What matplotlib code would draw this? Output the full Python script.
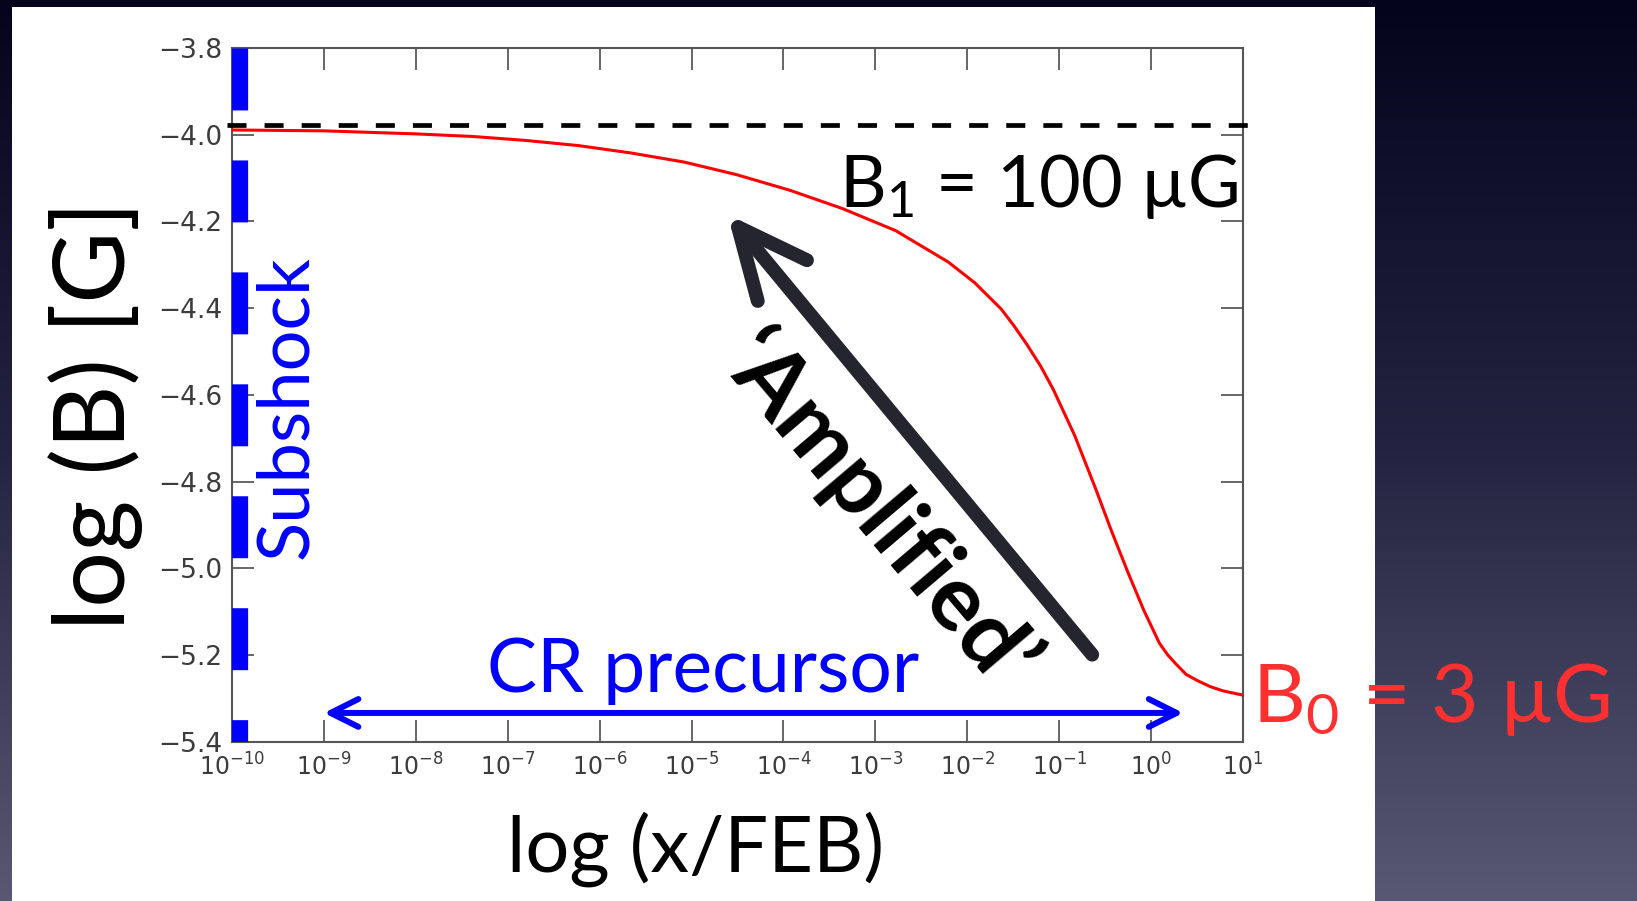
import numpy as np
import matplotlib
matplotlib.use("Agg")
import matplotlib.pyplot as plt
from matplotlib.patches import Rectangle
from matplotlib.ticker import FixedLocator, NullLocator, LogFormatterMathtext, FuncFormatter

plt.rcParams['lines.scale_dashes'] = False
plt.rcParams['axes.unicode_minus'] = True

# ---------------- data ----------------
log_x = [-10, -9, -8, -7.38, -6.81, -6.23, -5.66, -5.08, -4.51, -3.93, -3.36,
         -2.78, -2.21, -1.92, -1.63, -1.49, -1.35, -1.20, -1.06, -0.83, -0.60,
         -0.43, -0.25, -0.08, 0.09, 0.18, 0.27, 0.38, 0.50, 0.64, 0.78, 1.0]
log_B = [-3.989, -3.991, -3.998, -4.004, -4.013, -4.025, -4.042, -4.063, -4.092,
         -4.128, -4.170, -4.221, -4.293, -4.341, -4.402, -4.441, -4.484, -4.534,
         -4.589, -4.694, -4.818, -4.914, -5.010, -5.096, -5.172, -5.199, -5.220,
         -5.244, -5.258, -5.272, -5.282, -5.292]
x_decades = list(range(-10, 2))
y_ticks = [-3.8, -4.0, -4.2, -4.4, -4.6, -4.8, -5.0, -5.2, -5.4]
x_limits = (1e-10, 1e1)
y_limits = (-5.4, -3.8)

B1_level = -3.977                       # dashed upstream-field line
B1_span = (10 ** -10.05, 10 ** 1.12)
subshock_x = 1e-10
cr_span = (1e-9, 10 ** 0.35)
cr_level = -5.333
amp_tail = (-0.641, -5.1986)            # (log10 x, log B)
amp_tip = (-4.609, -4.1834)

# ---------------- figure ----------------
W, H = 1637, 901
fig = plt.figure(figsize=(W / 100, H / 100), dpi=100)

bg = fig.add_axes([0, 0, 1, 1], zorder=-10)
bg.axis('off')
t = np.linspace(0, 1, 300)
stops = [0.0, 0.5, 1.0]
cols = np.array([[4, 4, 28], [36, 36, 66], [88, 88, 114]]) / 255.0
grad = np.stack([np.interp(t, stops, cols[:, k]) for k in range(3)], axis=1)
img = np.repeat(grad[:, None, :], 2, axis=1)
bg.imshow(img, extent=[0, 1, 0, 1], aspect='auto', origin='upper')
bg.add_patch(Rectangle((12 / W, 0), (1375 - 12) / W, 1 - 7 / H,
                       transform=bg.transAxes, facecolor='white', edgecolor='none'))
bg.set_xlim(0, 1)
bg.set_ylim(0, 1)

ax = fig.add_axes([232 / W, (H - 742) / H, 1011 / W, 694 / H])
ax.set_facecolor('white')
ax.set_xscale('log')
ax.set_xlim(*x_limits)
ax.set_ylim(*y_limits)

# curve
ax.plot([10 ** v for v in log_x], log_B, color='#ff0000', lw=2.2, zorder=4,
        solid_joinstyle='round')

# B1 dashed line
ax.plot(B1_span, [B1_level, B1_level], color='black', lw=3.4,
        dashes=(13.7, 13.0), clip_on=False, zorder=5)

# subshock dashed thick blue line (half is clipped by the axes)
ax.plot([subshock_x, subshock_x], [y_limits[1], y_limits[0]], color='#0000ff',
        lw=22.5, dashes=(44.6, 36.0), solid_capstyle='butt',
        dash_capstyle='butt', zorder=3)

# CR precursor double arrow
ax.annotate('', xy=(cr_span[1], cr_level), xytext=(cr_span[0], cr_level),
            arrowprops=dict(arrowstyle='<->,head_length=20,head_width=10',
                            lw=4.3, color='#0000ff', mutation_scale=1,
                            shrinkA=0, shrinkB=0, capstyle='round',
                            joinstyle='round'), zorder=5)

# 'Amplified' arrow
ax.annotate('', xy=(10 ** amp_tip[0], amp_tip[1]),
            xytext=(10 ** amp_tail[0], amp_tail[1]),
            arrowprops=dict(arrowstyle='->,head_length=50,head_width=23',
                            lw=10, color='#25252f', mutation_scale=1,
                            shrinkA=0, shrinkB=0, capstyle='round',
                            joinstyle='round'), zorder=6)

# ticks
ax.xaxis.set_major_locator(FixedLocator([10.0 ** d for d in x_decades]))
ax.xaxis.set_minor_locator(NullLocator())
ax.xaxis.set_major_formatter(LogFormatterMathtext())
ax.yaxis.set_major_locator(FixedLocator(y_ticks))
ax.yaxis.set_major_formatter(FuncFormatter(lambda v, p: f'{v:.1f}'.replace('-', '\u2212')))
ax.tick_params(axis='both', which='major', direction='in', length=16,
               width=1.4, color='#666666', labelcolor='#3c3c3c',
               top=True, right=True)
ax.tick_params(axis='x', pad=8.5, labelsize=17)
ax.tick_params(axis='y', pad=7, labelsize=19)
for sp in ax.spines.values():
    sp.set_color('#555555')
    sp.set_linewidth(1.5)

# labels
ax.set_xlabel('log (x/FEB)', fontsize=56, family='Lato', color='black', va='center')
ax.xaxis.set_label_coords(0.4585, -0.1542)
ax.set_ylabel('log (B) [G]', fontsize=71, family='Lato', color='black', va='center')
ax.yaxis.set_label_coords(-0.1345, 0.4712)

# annotations
ax.text(10 ** -9.186, -4.628, 'Subshock', rotation=90, rotation_mode='anchor',
        ha='center', va='baseline', fontsize=52, family='Lato', color='#0000ff',
        zorder=7)
ax.text(10 ** -4.870, -5.2853, 'CR precursor', ha='center', va='baseline',
        fontsize=54, family='Lato', color='#0000ff', zorder=7)
ax.text(10 ** -3.40, -4.1657, r'$\mathregular{B_1}$ = 100 µG', ha='left',
        va='baseline', fontsize=52, family='Lato', color='black', zorder=7)
ax.text(10 ** -2.975, -4.870, '‘Amplified’', rotation=-49.7,
        rotation_mode='anchor', ha='center', va='center', fontsize=66,
        family='Lato', fontweight='bold', color='black', zorder=7)
fig.text(1252 / W, 1 - 722 / H, r'$\mathregular{B_0}$ = 3 µG', ha='left',
         va='baseline', fontsize=59, family='Lato', color='#ff3030')

fig.savefig('out.png', dpi=100, facecolor=fig.get_facecolor())
